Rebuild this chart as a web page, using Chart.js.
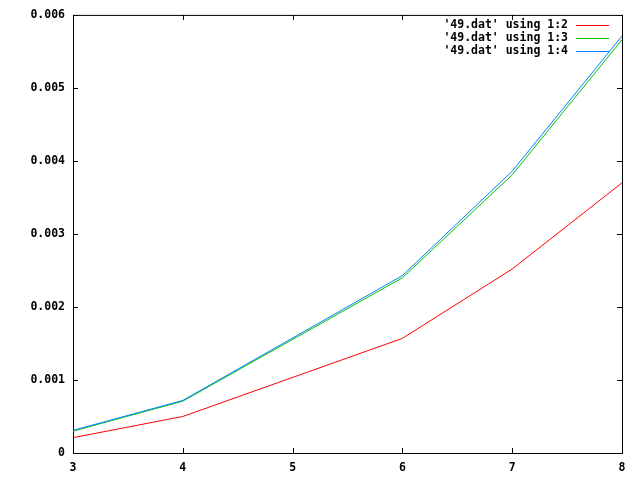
<!DOCTYPE html>
<html>
<head>
<meta charset="utf-8">
<script src="https://cdn.jsdelivr.net/npm/chart.js@4"></script>
<style>
  html, body { margin: 0; padding: 0; background: #fff; }
  #wrap { width: 640px; height: 480px; }
</style>
</head>
<body>
<div id="wrap"><canvas id="plot"></canvas></div>
<script>
// data
const xValues = [3, 4, 6, 7, 8];
const col2 = [0.00021, 0.00050, 0.00157, 0.00252, 0.00370];
const col3 = [0.00030, 0.00071, 0.00240, 0.00381, 0.00566];
const col4 = [0.00031, 0.00072, 0.00243, 0.00386, 0.00571];
const seriesNames = ["'49.dat' using 1:2", "'49.dat' using 1:3", "'49.dat' using 1:4"];
const seriesColors = ["#ff0000", "#00c000", "#0080ff"];

const monoFont = { family: "'DejaVu Sans Mono', monospace", size: 11.5, weight: "bold" };

function points(ys) {
    return xValues.map((x, i) => ({ x: x, y: ys[i] }));
}

// frame + inward ticks, gnuplot style
const frame = {
    id: "frame",
    beforeDatasetsDraw(chart) {
        const { ctx, chartArea: a, scales } = chart;
        const tl = 5;
        ctx.save();
        ctx.strokeStyle = "#000";
        ctx.lineWidth = 1;
        ctx.strokeRect(a.left + 0.5, a.top + 0.5, a.right - a.left, a.bottom - a.top);
        ctx.beginPath();
        scales.x.ticks.forEach(t => {
            const px = Math.round(scales.x.getPixelForValue(t.value)) + 0.5;
            ctx.moveTo(px, a.bottom); ctx.lineTo(px, a.bottom - tl);
            ctx.moveTo(px, a.top); ctx.lineTo(px, a.top + tl);
        });
        scales.y.ticks.forEach(t => {
            const py = Math.round(scales.y.getPixelForValue(t.value)) + 0.5;
            ctx.moveTo(a.left, py); ctx.lineTo(a.left + tl, py);
            ctx.moveTo(a.right, py); ctx.lineTo(a.right - tl, py);
        });
        ctx.stroke();
        ctx.restore();
    }
};

// key in the top right corner: text then a line sample
const key = {
    id: "key",
    afterDraw(chart) {
        const { ctx, chartArea: a } = chart;
        ctx.save();
        ctx.font = "bold 11.5px 'DejaVu Sans Mono', monospace";
        ctx.textAlign = "right";
        ctx.textBaseline = "middle";
        chart.data.datasets.forEach((ds, i) => {
            const y = a.top + 10.5 + i * 12.8;
            ctx.fillStyle = "#000";
            ctx.fillText(ds.label, a.right - 54, y);
            ctx.strokeStyle = ds.borderColor;
            ctx.lineWidth = 1;
            ctx.beginPath();
            ctx.moveTo(a.right - 46, Math.round(y) + 0.5);
            ctx.lineTo(a.right - 13, Math.round(y) + 0.5);
            ctx.stroke();
        });
        ctx.restore();
    }
};

const plot = new Chart(document.getElementById("plot"), {
    type: "line",
    data: {
        datasets: [col2, col3, col4].map((ys, i) => ({
            label: seriesNames[i],
            data: points(ys),
            borderColor: seriesColors[i],
            borderWidth: 1,
            pointRadius: 0,
            fill: false,
            tension: 0,
            order: 3 - i
        }))
    },
    options: {
        responsive: true,
        maintainAspectRatio: false,
        animation: false,
        layout: { padding: { left: 0, top: 13, right: 18, bottom: 0 } },
        plugins: {
            legend: { display: false },
            tooltip: { enabled: false }
        },
        scales: {
            x: {
                type: "linear",
                min: 3,
                max: 8,
                grid: { display: false, drawTicks: false },
                border: { display: false },
                ticks: {
                    stepSize: 1,
                    padding: 8,
                    color: "#000",
                    font: monoFont,
                    maxRotation: 0
                },
                afterFit(s) { s.height = 27; }
            },
            y: {
                min: 0,
                max: 0.006,
                grid: { display: false, drawTicks: false },
                border: { display: false },
                ticks: {
                    stepSize: 0.001,
                    padding: 8,
                    color: "#000",
                    font: monoFont,
                    callback: v => (v === 0 ? "0" : v.toFixed(3))
                },
                afterFit(s) { s.width = 73; }
            }
        }
    },
    plugins: [frame, key]
});
</script>
</body>
</html>
